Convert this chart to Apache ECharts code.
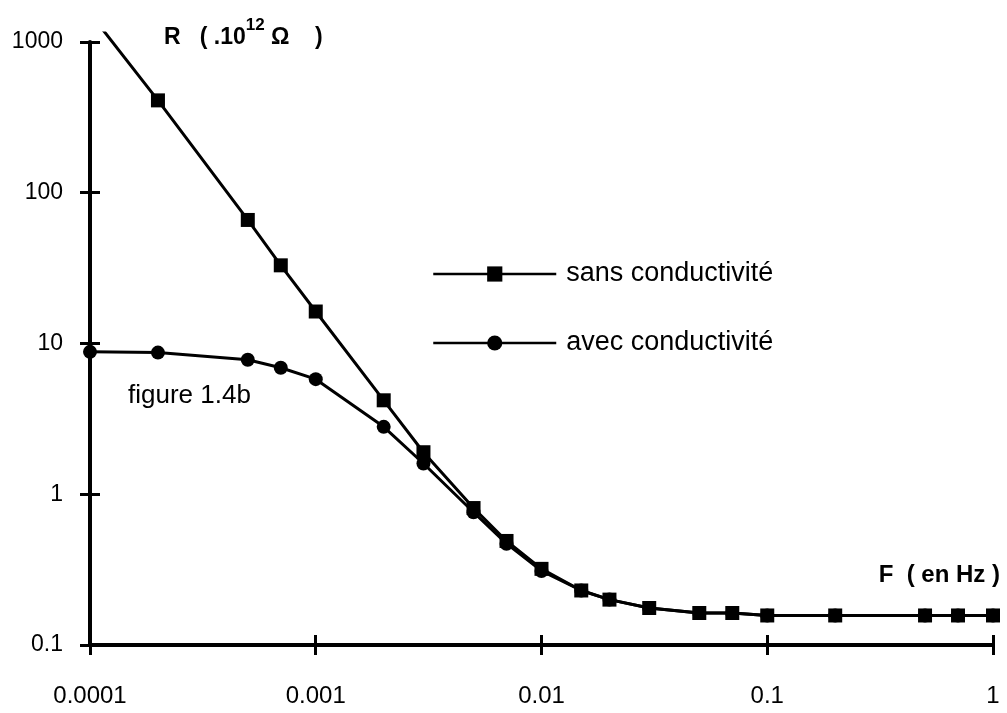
<!DOCTYPE html>
<html><head><meta charset="utf-8">
<script src="https://cdn.jsdelivr.net/npm/echarts@6/dist/echarts.min.js"></script>
<style>html,body{margin:0;padding:0;background:#fff}#c{width:1007px;height:713px}</style>
</head><body><div id="c"></div>
<script>
// ---- data ----
const freq = [0.0001, 0.0002, 0.0005, 0.0007, 0.001, 0.002, 0.003, 0.005, 0.007, 0.01, 0.015, 0.02, 0.03, 0.05, 0.07, 0.1, 0.2, 0.5, 0.7, 1];
const rSans = [1550, 410, 66, 33, 16.3, 4.2, 1.9, 0.81, 0.49, 0.32, 0.23, 0.2, 0.176, 0.163, 0.163, 0.157, 0.157, 0.157, 0.157, 0.157];
const rAvec = [8.8, 8.7, 7.8, 6.9, 5.8, 2.8, 1.6, 0.76, 0.47, 0.31, 0.23, 0.2, 0.176, 0.163, 0.163, 0.157, 0.157, 0.157, 0.157, 0.157];
const seriesNames = ['sans conductivité', 'avec conductivité'];
const xTickLabels = ['0.0001', '0.001', '0.01', '0.1', '1'];
const yTickLabels = ['0.1', '1', '10', '100', '1000'];
const xMin = 0.0001, xMax = 1, yMin = 0.1, yMax = 1000;

// ---- layout ----
const FONT = '"Liberation Sans", Arial, Helvetica, sans-serif';
const G = { left: 90, right: 14, top: 42, bottom: 68 };
const dataTop = 33; // plot area (for the curves) extends slightly above the 1000 tick
const decadePx = (713 - G.top - G.bottom) / Math.log10(yMax / yMin);
const yMaxData = yMax * Math.pow(10, (G.top - dataTop) / decadePx);

function labelFor(list, min) {
  return v => { const i = Math.round(Math.log10(v / min)); return list[i] !== undefined ? list[i] : ''; };
}
const zip = ys => freq.map((f, i) => [f, ys[i]]);
const black = '#000';
const tickStyle = { color: black, width: 3 };

const chart = echarts.init(document.getElementById('c'), null, { renderer: 'canvas' });
chart.setOption({
  animation: false,
  backgroundColor: '#fff',
  grid: [
    { left: G.left, right: G.right, top: G.top, bottom: G.bottom },
    { left: G.left, right: G.right, top: dataTop, bottom: G.bottom }
  ],
  xAxis: [
    { gridIndex: 0, type: 'log', logBase: 10, min: xMin, max: xMax,
      axisLine: { lineStyle: { color: black, width: 4 } },
      axisTick: { show: true, length: 10, lineStyle: tickStyle },
      minorTick: { show: false }, splitLine: { show: false },
      axisLabel: { margin: 39, color: black, fontSize: 24, fontFamily: FONT, formatter: labelFor(xTickLabels, xMin) } },
    { gridIndex: 0, type: 'log', logBase: 10, min: xMin, max: xMax, position: 'bottom',
      axisLine: { show: false }, axisTick: { show: true, inside: true, length: 10, lineStyle: tickStyle },
      axisLabel: { show: false }, splitLine: { show: false }, minorTick: { show: false } },
    { gridIndex: 1, type: 'log', logBase: 10, min: xMin, max: xMax, show: false }
  ],
  yAxis: [
    { gridIndex: 0, type: 'log', logBase: 10, min: yMin, max: yMax,
      axisLine: { show: true, lineStyle: { color: black, width: 4 } },
      axisTick: { show: true, length: 10, lineStyle: tickStyle },
      minorTick: { show: false }, splitLine: { show: false },
      axisLabel: { margin: 27, color: black, fontSize: 23, fontFamily: FONT, formatter: labelFor(yTickLabels, yMin) } },
    { gridIndex: 0, type: 'log', logBase: 10, min: yMin, max: yMax, position: 'left',
      axisLine: { show: false }, axisTick: { show: true, inside: true, length: 10, lineStyle: tickStyle },
      axisLabel: { show: false }, splitLine: { show: false }, minorTick: { show: false } },
    { gridIndex: 1, type: 'log', logBase: 10, min: yMin, max: yMaxData, show: false }
  ],
  legend: {
    data: seriesNames, orient: 'vertical', left: 427, top: 255,
    itemWidth: 123, itemHeight: 19, itemGap: 41,
    lineStyle: { width: 2.5 },
    textStyle: { color: black, fontSize: 27, fontFamily: FONT, lineHeight: 19, padding: [9, 0, 0, 5] }
  },
  title: [
    { text: '{b|R   ( .10}{s|12}{b| Ω    )}', left: 159, top: 12,
      textStyle: { rich: {
        b: { fontFamily: FONT, fontWeight: 'bold', fontSize: 23, color: black, lineHeight: 32, verticalAlign: 'bottom' },
        s: { fontFamily: FONT, fontWeight: 'bold', fontSize: 17, color: black, lineHeight: 32, verticalAlign: 'top' } } } },
    { text: 'F  ( en Hz )', right: 2, top: 558,
      textStyle: { fontFamily: FONT, fontWeight: 'bold', fontSize: 24, color: black } },
    { text: 'figure 1.4b', left: 123, top: 378,
      textStyle: { fontFamily: FONT, fontWeight: 'normal', fontSize: 26, color: black } }
  ],
  series: [
    { name: seriesNames[1], type: 'line', xAxisIndex: 2, yAxisIndex: 2, data: zip(rAvec),
      symbol: 'circle', symbolSize: 14, clip: true,
      lineStyle: { color: black, width: 3 }, itemStyle: { color: black } },
    { name: seriesNames[0], type: 'line', xAxisIndex: 2, yAxisIndex: 2, data: zip(rSans),
      symbol: 'rect', symbolSize: 14, clip: true,
      lineStyle: { color: black, width: 3 }, itemStyle: { color: black } }
  ]
});
</script>
</body></html>
